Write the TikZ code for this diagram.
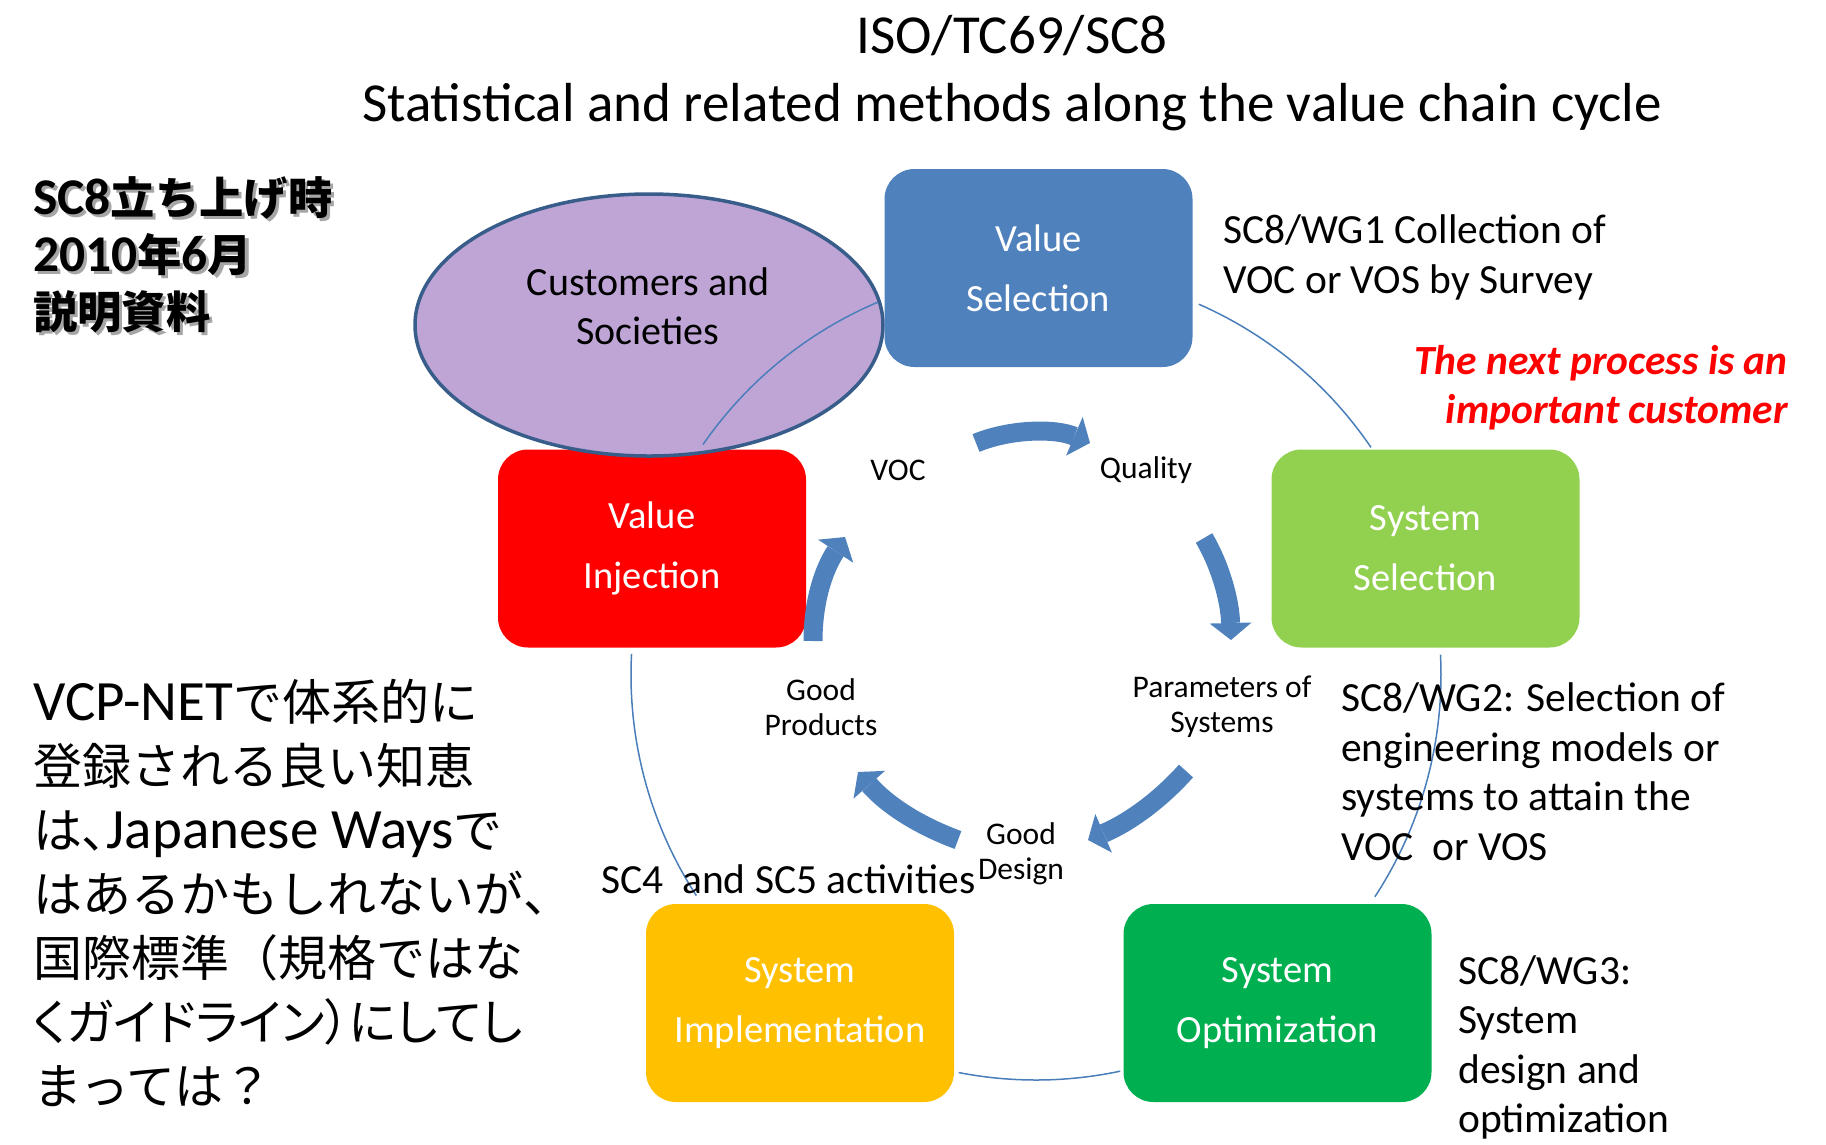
\documentclass[tikz,border=0pt]{standalone}
\usepackage{fontspec}
\setmainfont{Carlito}
\newfontfamily\jpfont[Scale=0.86]{Noto Sans CJK JP}
\newfontfamily\jpprop[Scale=0.86,RawFeature=+palt]{Noto Sans CJK JP}
\usetikzlibrary{arrows.meta}
\usetikzlibrary{shapes.geometric}

\definecolor{selblue}{RGB}{79,129,189}
\definecolor{linkblue}{RGB}{74,126,187}
\definecolor{injred}{RGB}{255,0,0}
\definecolor{sellime}{RGB}{146,208,80}
\definecolor{optgreen}{RGB}{0,176,80}
\definecolor{impamber}{RGB}{255,192,0}
\definecolor{custlilac}{RGB}{191,165,213}
\definecolor{custrim}{RGB}{56,93,138}

\newcommand{\jp}[1]{{\jpfont #1}}
\newcommand{\jpp}[1]{{\jpprop #1}}

\tikzset{
  stage/.style={rounded corners=30pt, minimum width=308pt, minimum height=198pt,
    inner sep=0pt, text=white, align=center, font=\fontsize{38.5}{60}\selectfont},
  custshape/.style={ellipse, draw=custrim, line width=3.5pt, fill=custlilac,
    minimum width=468pt, minimum height=262pt, inner sep=0pt},
  cycline/.style={draw=linkblue, line width=1.5pt},
  flow/.style={draw=selblue, line width=19pt,
    -{Triangle[width=42pt,length=17pt,line width=0pt]}},
  lbl/.style={align=center, inner sep=0pt, font=\fontsize{31.5}{35}\selectfont},
  note/.style={align=left, anchor=west, inner sep=0pt, font=\fontsize{41.5}{49.5}\selectfont},
}

\begin{document}
\begin{tikzpicture}[x=1pt,y=1pt,yscale=-1,xscale=1]
\useasboundingbox (0,0) rectangle (1826,1144);

% Title
\node[align=center, inner sep=0pt, font=\fontsize{55}{67.5}\selectfont] (title) at (1012,73)
  {ISO/TC69/SC8\\Statistical and related methods along the value chain cycle};

% Stages of the cycle
\node[stage, fill=injred] (vinj) at (652,548.5) {Value\\Injection};
\node[custshape] (cust) at (649,325) {};
\node[align=center, inner sep=0pt, font=\fontsize{40}{49}\selectfont] (custlbl) at (648,306)
  {Customers and\\Societies};
\node[stage, fill=selblue] (vsel) at (1038.5,268) {Value\\Selection};
\node[stage, fill=sellime] (ssel) at (1425.5,548.5) {System\\Selection};
\node[stage, fill=optgreen] (sopt) at (1277.5,1003) {System\\Optimization};
\node[stage, fill=impamber] (simp) at (800,1003) {System\\Implementation};

% Outer thin ring between the stages
\coordinate (hub) at (1036,675);
\draw[cycline] (hub) ++(-66.3:405) arc[start angle=-66.3, end angle=-34.2, radius=405];
\draw[cycline] (hub) ++(-2.9:405) arc[start angle=-2.9, end angle=33.2, radius=405];
\draw[cycline] (hub) ++(78:405) arc[start angle=78, end angle=101, radius=405];
\draw[cycline] (hub) ++(147:405) arc[start angle=147, end angle=183, radius=405];
\draw[cycline] (hub) ++(214.7:405) arc[start angle=214.7, end angle=247, radius=405];

% Inner block arrows
\coordinate (f1a) at (976,443);  \coordinate (f1b) at (1090,443);
\coordinate (f2a) at (1204,538); \coordinate (f2b) at (1231,640);
\coordinate (f3a) at (1186,771); \coordinate (f3b) at (1088,840);
\coordinate (f4a) at (958,840);  \coordinate (f4b) at (858,772);
\coordinate (f5a) at (813,641);  \coordinate (f5b) at (845,537);
\draw[flow] (f1a) .. controls (1010,429) and (1055,428) .. (f1b);
\draw[flow] (f2a) .. controls (1220,565) and (1230,600) .. (f2b);
\draw[flow] (f3a) .. controls (1160,800) and (1130,822) .. (f3b);
\draw[flow] (f4a) .. controls (920,826) and (888,806) .. (f4b);
\draw[flow] (f5a) .. controls (813,605) and (822,572) .. (f5b);

% Labels along the inner cycle
\node[lbl] (voc) at (898,470) {VOC};
\node[lbl] (quality) at (1146,470) {Quality};
\node[lbl] (params) at (1222,707) {Parameters of\\Systems};
\node[lbl] (goodprod) at (821,707) {Good\\Products};
\node[lbl] (gooddes) at (1021,854) {Good\\Design};

% Notes
\node[note] (sc45) at (601,879) {SC4~ and SC5 activities};
\node[note] (wg1) at (1223,257.5) {SC8/WG1 Collection of\\VOC or VOS by Survey};
\node[note] (wg2) at (1341,771.5) {SC8/WG2: Selection of\\engineering models or\\systems to attain the\\VOC~ or VOS};
\node[note] (wg3) at (1458,1047.5) {SC8/WG3:\\System\\design and\\optimization};
\node[note, anchor=east, align=right, text=injred, font=\fontsize{41.5}{49}\selectfont\bfseries\itshape]
  (nextproc) at (1788,388) {The next process is an\\important customer};

% Japanese notes
\node[align=left, anchor=west, inner sep=0pt, text=black!35, font=\fontsize{51.5}{57}\selectfont\bfseries]
  (launchshade) at (36,258) {SC8\jp{立ち上げ時}\\2010\jp{年}6\jp{月}\\\jp{説明資料}};
\node[align=left, anchor=west, inner sep=0pt, font=\fontsize{51.5}{57}\selectfont\bfseries]
  (launch) at (33,255) {SC8\jp{立ち上げ時}\\2010\jp{年}6\jp{月}\\\jp{説明資料}};
\node[align=left, anchor=west, inner sep=0pt, font=\fontsize{57}{64}\selectfont]
  (vcpnet) at (33,893) {VCP-NET\jp{で体系的に}\\\jp{登録される良い知恵}\\\jpp{は、}Japanese Ways\jp{で}\\\jp{はあるかもしれないが}\jpp{、}\\\jp{国際標準（規格ではな}\\\jpp{くガイドライン）にしてし}\\\jp{まっては？}};

\end{tikzpicture}
\end{document}
